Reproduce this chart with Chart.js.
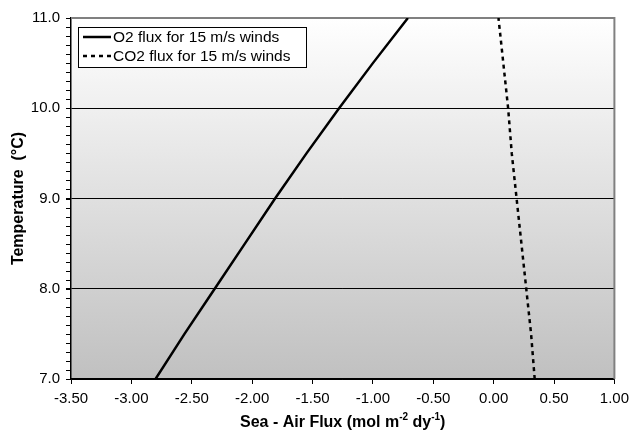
<!DOCTYPE html>
<html>
<head>
<meta charset="utf-8">
<script src="https://cdn.jsdelivr.net/npm/chart.js@4/dist/chart.umd.min.js"></script>
<style>
  body { margin: 0; background: #fff; }
  #wrap { width: 635px; height: 433px; position: relative; }
</style>
</head>
<body>
<div id="wrap"><canvas id="fluxChart"></canvas></div>
<script>
// values
const temperature = [7.0, 7.5, 8.0, 8.5, 9.0, 9.5, 10.0, 10.5, 11.0];
const o2Flux = [-2.80, -2.56, -2.31, -2.06, -1.81, -1.55, -1.28, -1.00, -0.71];
const co2Flux = [0.34, 0.31, 0.27, 0.23, 0.19, 0.15, 0.12, 0.08, 0.04];
const seriesNames = ['O2 flux for 15 m/s winds', 'CO2 flux for 15 m/s winds'];
const xTitle = ['Sea - Air Flux (mol m', '-2', ' dy', '-1', ')'];
const yTitle = 'Temperature  (°C)';
const yMinorStep = 0.1;

const FONT = "'Liberation Sans', Arial, sans-serif";
const ctx = document.getElementById('fluxChart').getContext('2d');

function toPoints(xs) {
    return xs.map((x, i) => ({ x: x, y: temperature[i] }));
}

function isWhole(v) {
    return Math.abs(v - Math.round(v)) < 1e-6;
}

// plot area shading + grey top/right frame
const plotBackground = {
    id: 'plotBackground',
    beforeDraw(chart) {
        const { ctx, chartArea: a } = chart;
        const g = ctx.createLinearGradient(0, a.top, 0, a.bottom);
        g.addColorStop(0, '#ffffff');
        g.addColorStop(1, '#c0c0c0');
        ctx.save();
        ctx.fillStyle = g;
        ctx.fillRect(a.left, a.top, a.right - a.left, a.bottom - a.top);
        ctx.restore();
    },
    beforeDatasetsDraw(chart) {
        const { ctx, chartArea: a } = chart;
        ctx.save();
        ctx.strokeStyle = '#808080';
        ctx.lineWidth = 2;
        ctx.beginPath();
        ctx.moveTo(a.left, a.top);
        ctx.lineTo(a.right, a.top);
        ctx.lineTo(a.right, a.bottom);
        ctx.stroke();

        // minor tick marks on the temperature axis
        const ys = chart.scales.y;
        ctx.strokeStyle = '#000';
        ctx.lineWidth = 1;
        ctx.beginPath();
        const n = Math.round((ys.max - ys.min) / yMinorStep);
        for (let k = 0; k <= n; k++) {
            const py = Math.round(ys.getPixelForValue(ys.min + k * yMinorStep)) + 0.5;
            ctx.moveTo(a.left - 5, py);
            ctx.lineTo(a.left, py);
        }
        ctx.stroke();
        ctx.restore();
    }
};

// boxed legend inside the plot + x title with superscripts
const extras = {
    id: 'extras',
    afterDraw(chart) {
        const { ctx, chartArea: a } = chart;
        ctx.save();

        const bx = a.left + 7, by = a.top + 9, bw = 228, bh = 40;
        ctx.fillStyle = '#ffffff';
        ctx.fillRect(bx, by, bw, bh);
        ctx.strokeStyle = '#000';
        ctx.lineWidth = 1;
        ctx.strokeRect(bx + 0.5, by + 0.5, bw, bh);

        ctx.font = '15.5px ' + FONT;
        ctx.textBaseline = 'middle';
        chart.data.datasets.forEach((ds, i) => {
            const y = by + 10 + i * 19;
            ctx.strokeStyle = '#000';
            ctx.lineWidth = 2.5;
            ctx.setLineDash(ds.borderDash || []);
            ctx.beginPath();
            ctx.moveTo(bx + 5, y);
            ctx.lineTo(bx + 33, y);
            ctx.stroke();
            ctx.setLineDash([]);
            ctx.fillStyle = '#000';
            ctx.fillText(ds.label, bx + 35, y + 1);
        });

        // x axis title
        const big = 'bold 16px ' + FONT, small = 'bold 10px ' + FONT;
        const parts = xTitle.map((t, i) => ({ text: t, sup: i % 2 === 1 }));
        let total = 0;
        parts.forEach(p => {
            ctx.font = p.sup ? small : big;
            p.w = ctx.measureText(p.text).width;
            total += p.w;
        });
        let x = (a.left + a.right) / 2 - total / 2;
        const base = 427;
        ctx.textBaseline = 'alphabetic';
        ctx.textAlign = 'left';
        parts.forEach(p => {
            ctx.font = p.sup ? small : big;
            ctx.fillText(p.text, x, p.sup ? base - 7 : base);
            x += p.w;
        });
        ctx.restore();
    }
};

new Chart(ctx, {
    type: 'scatter',
    data: {
        datasets: [{
            label: seriesNames[0],
            data: toPoints(o2Flux),
            showLine: true,
            borderColor: '#000',
            borderWidth: 2.5,
            pointRadius: 0,
            tension: 0
        }, {
            label: seriesNames[1],
            data: toPoints(co2Flux),
            showLine: true,
            borderColor: '#000',
            borderWidth: 2.5,
            borderDash: [4, 4],
            pointRadius: 0,
            tension: 0
        }]
    },
    options: {
        responsive: true,
        maintainAspectRatio: false,
        animation: false,
        layout: { padding: { top: 18, right: 16, left: 0, bottom: 0 } },
        plugins: {
            legend: { display: false },
            tooltip: { enabled: false }
        },
        scales: {
            x: {
                type: 'linear',
                min: -3.5,
                max: 1.0,
                afterFit(scale) { scale.height = 54; },
                border: { color: '#000', width: 1.5 },
                grid: {
                    drawOnChartArea: false,
                    tickColor: '#000',
                    tickLength: 5
                },
                ticks: {
                    stepSize: 0.5,
                    color: '#000',
                    padding: 6,
                    font: { family: FONT, size: 15 },
                    maxRotation: 0,
                    callback: v => v.toFixed(2)
                }
            },
            y: {
                type: 'linear',
                min: 7.0,
                max: 11.0,
                afterFit(scale) { scale.width = 71; },
                border: { color: '#000', width: 1.5 },
                grid: {
                    color: c => (c.tick && isWhole(c.tick.value)) ? '#000' : 'rgba(0,0,0,0)',
                    tickColor: '#000',
                    tickLength: 5,
                    lineWidth: 1
                },
                ticks: {
                    stepSize: 1,
                    color: '#000',
                    padding: 6,
                    font: { family: FONT, size: 15 },
                    callback: v => v.toFixed(1)
                },
                title: {
                    display: true,
                    text: yTitle,
                    color: '#000',
                    font: { family: FONT, size: 16, weight: 'bold' },
                    padding: { top: 9, bottom: 0 }
                }
            }
        }
    },
    plugins: [plotBackground, extras]
});
</script>
</body>
</html>
